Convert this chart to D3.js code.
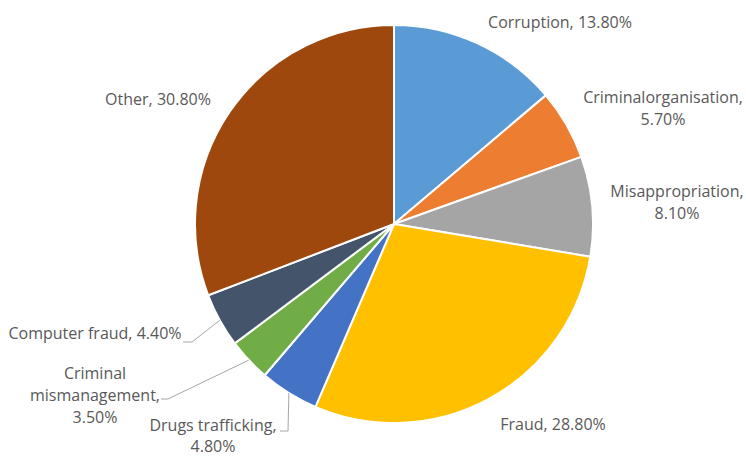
<!DOCTYPE html>
<html>
<head>
<meta charset="utf-8">
<script src="https://cdn.jsdelivr.net/npm/d3@7"></script>
<style>
  body { margin: 0; background: #fff; }
  text { font-family: "Open Sans", Lato, sans-serif; font-size: 16px; fill: #595959; }
</style>
</head>
<body>
<div id="chart"></div>
<script>
// data, clockwise from 12 o'clock
var categories = ["Corruption", "Criminalorganisation", "Misappropriation", "Fraud",
                  "Drugs trafficking", "Criminal mismanagement", "Computer fraud", "Other"];
var values = [13.8, 5.7, 8.1, 28.8, 4.8, 3.5, 4.4, 30.8];
var colors = ["#5b9bd5", "#ed7d31", "#a5a5a5", "#ffc000", "#4472c4", "#70ad47", "#44546a", "#9e480e"];

// label layout: lines of text, centre x, first line centre y, line gap, and leader line elbow (if any)
var labelLines = [
    ["Corruption, 13.80%"],
    ["Criminalorganisation,", "5.70%"],
    ["Misappropriation,", "8.10%"],
    ["Fraud, 28.80%"],
    ["Drugs trafficking,", "4.80%"],
    ["Criminal", "mismanagement,", "3.50%"],
    ["Computer fraud, 4.40%"],
    ["Other, 30.80%"]
];
var labelPos = [[560, 22], [663, 97], [677, 191], [553, 424], [213, 425], [95, 373], [95, 333], [158, 99]];
var lineGap = [1.4, 1.4, 1.4, 1.4, 1.35, 1.4, 1.4, 1.4];
var leaders = [null, null, null, null, [[280, 431], [288, 431]], [[161, 399], [168, 399]], [[183, 342], [192, 342]], null];

function init() {
    var w = 746, h = 459;
    var cx = 394, cy = 224, r = 199;

    var svg = d3.select("#chart")
        .append("svg")
        .attr("width", w)
        .attr("height", h);

    var data = categories.map(function (c, i) { return { name: c, value: values[i], i: i }; });

    var pie = d3.pie()
        .sort(null)
        .value(function (d) { return d.value; });

    var arc = d3.arc()
        .innerRadius(0)
        .outerRadius(r);

    var arcs = pie(data);

    var g = svg.append("g")
        .attr("transform", "translate(" + cx + "," + cy + ")");

    g.selectAll("path")
        .data(arcs)
        .enter()
        .append("path")
        .attr("d", arc)
        .attr("fill", function (d) { return colors[d.data.i]; })
        .attr("stroke", "#fff")
        .attr("stroke-width", 2)
        .attr("stroke-linejoin", "round");

    // leader lines from slice edge to label elbow
    arcs.forEach(function (d) {
        var l = leaders[d.data.i];
        if (!l) return;
        var a = (d.startAngle + d.endAngle) / 2;
        var px = cx + r * Math.sin(a), py = cy - r * Math.cos(a);
        svg.append("path")
            .attr("d", "M" + l[0][0] + "," + l[0][1] + "L" + l[1][0] + "," + l[1][1] + "L" + px + "," + py)
            .attr("fill", "none")
            .attr("stroke", "#a6a6a6")
            .attr("stroke-width", 1);
    });

    // labels
    labelLines.forEach(function (lines, i) {
        var t = svg.append("text")
            .attr("text-anchor", "middle")
            .attr("x", labelPos[i][0])
            .attr("y", labelPos[i][1]);
        lines.forEach(function (s, j) {
            t.append("tspan")
                .attr("x", labelPos[i][0])
                .attr("dy", j === 0 ? "0.35em" : lineGap[i] + "em")
                .text(s);
        });
    });
}

window.onload = init;
</script>
</body>
</html>
